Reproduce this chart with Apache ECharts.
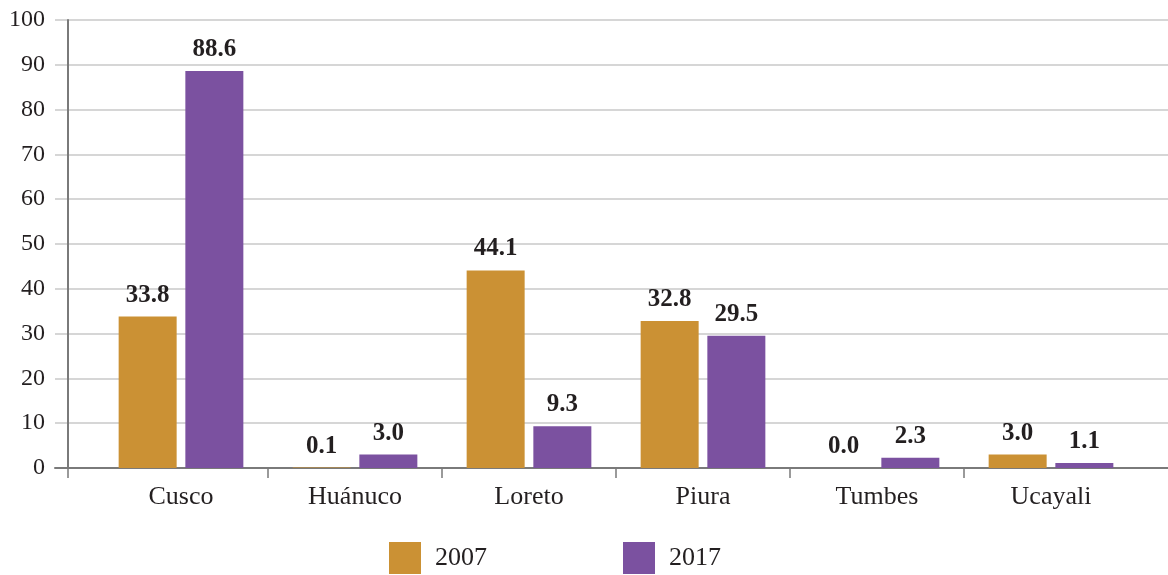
<!DOCTYPE html>
<html>
<head>
<meta charset="utf-8">
<script src="https://cdn.jsdelivr.net/npm/echarts@6/dist/echarts.min.js"></script>
<style>
  html, body { margin: 0; padding: 0; background: #ffffff; }
  #chart { width: 1168px; height: 575px; }
</style>
</head>
<body>
<div id="chart"></div>
<script>
// Data
const categories = ['Cusco', 'Huánuco', 'Loreto', 'Piura', 'Tumbes', 'Ucayali'];
const seriesNames = ['2007', '2017'];
const values2007 = [33.8, 0.1, 44.1, 32.8, 0.0, 3.0];
const values2017 = [88.6, 3.0, 9.3, 29.5, 2.3, 1.1];
const yMin = 0, yMax = 100, yStep = 10;

// Layout (pixels)
const W = 1168;
const FRAME_LEFT = 55;   // gridlines / baseline start
const AXIS_X = 68;       // vertical axis line
const BAND_LEFT = 94;    // first category band starts here
const BAND = 174;        // width of one category band
const TOP = 20, BOTTOM = 107;

const FONT = '"Liberation Serif", "DejaVu Serif", serif';
const TEXT = '#231f20';
const AXIS_DARK = '#7a7a7a';
const GRID_LIGHT = '#c9c9c9';
const COLORS = ['#cb9134', '#7b51a0'];

// Frame x-axis measured in band units, 0 sitting on the vertical axis line
const off = (BAND_LEFT - AXIS_X) / BAND;
const frameMin = (FRAME_LEFT - AXIS_X) / BAND;
const frameMax = (W - AXIS_X) / BAND;
const separatorTicks = [0];
for (let i = 1; i < categories.length; i++) separatorTicks.push(i + off);

const chart = echarts.init(document.getElementById('chart'), null, { renderer: 'canvas' });

chart.setOption({
  animation: false,
  backgroundColor: '#ffffff',
  color: COLORS,
  textStyle: { fontFamily: FONT },
  grid: [
    { left: FRAME_LEFT, right: 0, top: TOP, bottom: BOTTOM, containLabel: false, outerBoundsMode: 'none' },
    { left: BAND_LEFT, right: W - BAND_LEFT - BAND * categories.length, top: TOP, bottom: BOTTOM, containLabel: false, outerBoundsMode: 'none' }
  ],
  legend: {
    data: seriesNames,
    left: 389,
    top: 542,
    padding: 0,
    itemWidth: 32,
    itemHeight: 32,
    itemGap: 136,
    icon: 'rect',
    textStyle: { fontFamily: FONT, fontSize: 26, color: TEXT, padding: [0, 0, 0, 9] }
  },
  xAxis: [
    {
      gridIndex: 0,
      type: 'value',
      min: frameMin,
      max: frameMax,
      axisLine: { show: true, onZero: true, lineStyle: { color: AXIS_DARK, width: 2 } },
      axisTick: { show: true, length: 10, customValues: separatorTicks, lineStyle: { color: AXIS_DARK, width: 1.5 } },
      axisLabel: { show: false },
      splitLine: { show: false }
    },
    {
      gridIndex: 1,
      type: 'category',
      data: categories,
      boundaryGap: true,
      axisLine: { show: false },
      axisTick: { show: false },
      axisLabel: { fontFamily: FONT, fontSize: 26, color: TEXT, margin: 16 },
      splitLine: { show: false }
    }
  ],
  yAxis: [
    {
      gridIndex: 0,
      type: 'value',
      min: yMin,
      max: yMax,
      interval: yStep,
      axisLine: { show: true, onZero: true, lineStyle: { color: AXIS_DARK, width: 2 } },
      axisTick: { show: false },
      axisLabel: { fontFamily: FONT, fontSize: 24, color: TEXT, margin: 10 },
      splitLine: { show: true, lineStyle: { color: GRID_LIGHT, width: 1.5 } }
    },
    {
      gridIndex: 1,
      type: 'value',
      min: yMin,
      max: yMax,
      interval: yStep,
      show: false,
      splitLine: { show: false }
    }
  ],
  series: [values2007, values2017].map((vals, i) => ({
    name: seriesNames[i],
    type: 'bar',
    xAxisIndex: 1,
    yAxisIndex: 1,
    data: vals,
    barWidth: 58,
    barGap: '15%',
    itemStyle: { color: COLORS[i] },
    label: {
      show: true,
      position: 'top',
      distance: 9,
      fontFamily: FONT,
      fontSize: 25,
      fontWeight: 'bold',
      color: TEXT,
      formatter: p => p.value.toFixed(1)
    }
  }))
});
</script>
</body>
</html>
